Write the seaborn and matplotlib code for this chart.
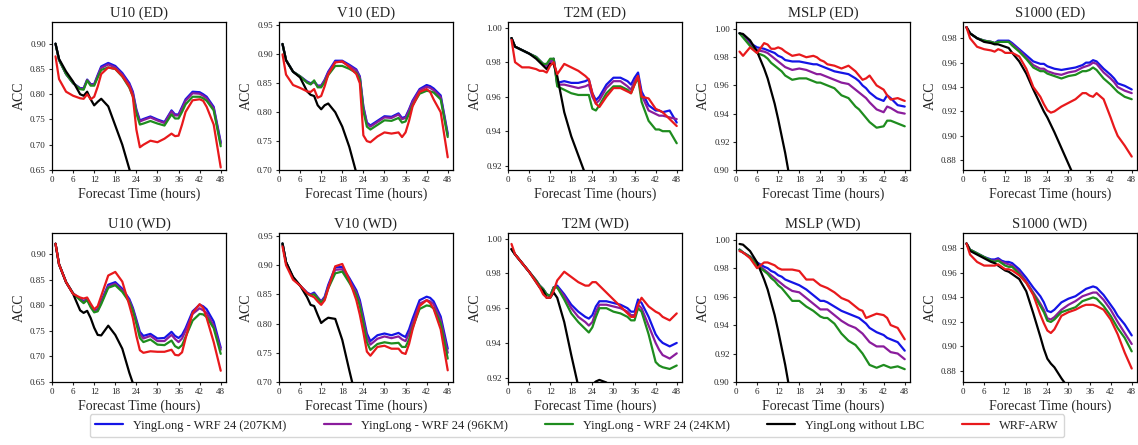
import matplotlib
matplotlib.use("Agg")
import matplotlib.pyplot as plt
import matplotlib.ticker as mticker
import numpy as np
import pandas as pd
import seaborn as sns

hours = [1, 2, 4, 6, 8, 9, 10, 11, 12, 13, 14, 16, 18, 20, 22, 23, 24, 25, 26, 28,
         30, 32, 34, 35, 36, 37, 38, 40, 42, 43, 44, 46, 48]

models = ["YingLong - WRF 24 (207KM)", "YingLong - WRF 24 (96KM)",
          "YingLong - WRF 24 (24KM)", "YingLong without LBC", "WRF-ARW"]
colors = ["#1414e6", "#8a1c9c", "#1e8c1e", "#000000", "#e8191c"]

# ---------------- U10 (ED)
U10_ED_207 = [.900, .868, .840, .822, .812, .812, .829, .820, .820, .838, .855, .862, .856, .842, .822, .805, .770, .748, .751, .756, .750, .745, .768, .760, .760, .775, .790, .805, .804, .800, .795, .775, .705]
U10_ED_96 = [.900, .868, .840, .822, .811, .811, .828, .819, .819, .836, .852, .859, .853, .839, .819, .802, .767, .746, .749, .754, .748, .743, .766, .758, .758, .772, .787, .802, .801, .797, .792, .772, .702]
U10_ED_24 = [.900, .868, .840, .822, .810, .809, .827, .817, .817, .833, .848, .853, .850, .835, .813, .796, .762, .740, .742, .747, .742, .738, .760, .752, .752, .765, .780, .795, .795, .792, .787, .768, .697]
U10_ED_NOLBC = [.900, .870, .845, .825, .800, .797, .805, .790, .778, .785, .791, .776, .738, .700, .652, .630, .610, .598, .588, .570, .550, .530, .510, .500, .490, .480, .470, .450, .430, .420, .410, .390, .370]
U10_ED_WRF = [.875, .830, .805, .797, .792, .791, .800, .790, .795, .815, .840, .853, .850, .836, .815, .795, .730, .695, .700, .708, .705, .712, .722, .717, .718, .740, .765, .788, .790, .787, .775, .740, .655]

# ---------------- V10 (ED)
V10_ED_207 = [.918, .890, .870, .862, .853, .850, .853, .846, .846, .856, .870, .889, .889, .882, .874, .862, .810, .782, .777, .785, .793, .792, .798, .790, .792, .805, .820, .840, .847, .845, .841, .829, .763]
V10_ED_96 = [.918, .890, .870, .862, .852, .849, .852, .845, .845, .855, .868, .887, .887, .880, .872, .860, .808, .780, .775, .783, .791, .790, .796, .788, .790, .803, .818, .838, .844, .842, .838, .826, .760]
V10_ED_24 = [.918, .890, .870, .862, .851, .848, .855, .843, .843, .852, .864, .880, .880, .875, .868, .857, .802, .775, .770, .778, .786, .785, .790, .782, .784, .797, .812, .832, .837, .836, .834, .822, .757]
V10_ED_NOLBC = [.918, .890, .870, .860, .836, .830, .828, .812, .805, .812, .815, .800, .775, .740, .695, .675, .655, .640, .625, .595, .565, .535, .505, .495, .485, .475, .465, .445, .425, .415, .405, .385, .365]
V10_ED_WRF = [.900, .865, .847, .842, .836, .835, .840, .825, .828, .845, .865, .886, .888, .878, .866, .850, .760, .750, .748, .758, .765, .763, .765, .757, .765, .785, .810, .835, .840, .835, .822, .800, .722]

# ---------------- T2M (ED)
T2M_ED_207 = [.994, .989, .987, .985, .983, .981, .979, .978, .980, .982, .968, .969, .968, .968, .969, .970, .962, .958, .960, .967, .971, .971, .969, .967, .971, .974, .963, .955, .952, .952, .951, .952, .945]
T2M_ED_96 = [.994, .989, .987, .985, .983, .981, .979, .978, .980, .982, .967, .967, .966, .965, .966, .967, .960, .956, .958, .965, .969, .969, .966, .964, .969, .972, .961, .952, .950, .949, .949, .948, .947]
T2M_ED_24 = [.994, .989, .987, .985, .983, .981, .979, .979, .982, .982, .966, .964, .962, .961, .961, .961, .953, .952, .955, .962, .966, .966, .964, .962, .967, .971, .957, .946, .941, .941, .940, .940, .933]
T2M_ED_NOLBC = [.994, .989, .987, .985, .982, .980, .978, .976, .979, .979, .972, .951, .937, .926, .915, .910, .903, .900, .896, .890, .883, .876, .870, .866, .863, .860, .857, .850, .843, .840, .836, .830, .823]
T2M_ED_WRF = [.993, .980, .977, .977, .976, .975, .975, .974, .978, .980, .973, .979, .977, .975, .972, .970, .962, .956, .954, .960, .965, .965, .963, .962, .967, .972, .960, .959, .953, .952, .951, .947, .943]

# ---------------- MSLP (ED)
MSLP_ED_207 = [.997, .995, .990, .987, .986, .985, .984, .983, .981, .980, .978, .977, .977, .976, .975, .975, .974, .973, .972, .970, .969, .968, .965, .963, .960, .958, .955, .951, .949, .953, .951, .946, .945]
MSLP_ED_96 = [.997, .995, .989, .985, .984, .983, .981, .979, .977, .975, .973, .971, .972, .971, .969, .968, .968, .967, .966, .964, .962, .961, .957, .955, .953, .951, .948, .943, .941, .945, .944, .941, .940]
MSLP_ED_24 = [.997, .994, .988, .983, .981, .979, .976, .974, .972, .970, .967, .964, .965, .965, .963, .962, .962, .961, .960, .958, .953, .951, .945, .943, .940, .937, .934, .930, .931, .935, .935, .933, .931]
MSLP_ED_NOLBC = [.997, .9965, .992, .984, .972, .965, .956, .947, .936, .924, .912, .884, .851, .815, .776, .755, .735, .715, .695, .650, .605, .560, .515, .495, .475, .455, .435, .395, .355, .335, .315, .275, .235]
MSLP_ED_WRF = [.984, .981, .987, .983, .990, .989, .986, .986, .987, .986, .984, .981, .982, .980, .981, .980, .978, .977, .975, .974, .972, .974, .970, .967, .964, .965, .967, .960, .957, .953, .950, .951, .949]

# ---------------- S1000 (ED)
S1000_ED_207 = [.989, .984, .980, .978, .977, .976, .978, .978, .978, .978, .976, .971, .966, .961, .959, .959, .957, .956, .955, .954, .955, .956, .958, .960, .960, .962, .961, .955, .950, .947, .943, .941, .938]
S1000_ED_96 = [.989, .984, .980, .978, .977, .976, .977, .977, .977, .977, .975, .970, .964, .958, .955, .955, .953, .952, .951, .950, .952, .953, .956, .957, .958, .960, .959, .952, .947, .944, .940, .937, .935]
S1000_ED_24 = [.989, .984, .980, .978, .977, .976, .977, .977, .977, .977, .974, .969, .963, .956, .953, .953, .951, .950, .949, .947, .949, .950, .953, .953, .954, .956, .954, .947, .942, .939, .936, .932, .930]
S1000_ED_NOLBC = [.989, .984, .980, .977, .976, .975, .975, .974, .973, .972, .968, .961, .951, .938, .926, .920, .915, .909, .903, .890, .877, .864, .850, .843, .836, .830, .824, .810, .797, .790, .784, .770, .757]
S1000_ED_WRF = [.989, .980, .973, .971, .970, .969, .971, .970, .968, .968, .968, .965, .955, .940, .932, .926, .921, .919, .920, .924, .927, .930, .935, .935, .933, .932, .935, .930, .915, .907, .900, .892, .883]

# ---------------- U10 (WD)
U10_WD_207 = [.920, .880, .845, .823, .812, .808, .812, .800, .790, .792, .808, .840, .845, .832, .812, .795, .772, .748, .740, .744, .735, .736, .748, .740, .736, .742, .755, .788, .801, .798, .792, .768, .717]
U10_WD_96 = [.920, .880, .845, .823, .811, .806, .811, .798, .789, .790, .805, .837, .842, .829, .809, .792, .768, .743, .735, .740, .730, .730, .742, .734, .728, .735, .750, .783, .794, .790, .785, .760, .713]
U10_WD_24 = [.920, .880, .845, .823, .810, .804, .810, .796, .786, .788, .802, .834, .839, .826, .806, .789, .764, .736, .728, .733, .723, .722, .731, .720, .716, .722, .738, .770, .783, .782, .777, .755, .705]
U10_WD_NOLBC = [.920, .880, .845, .822, .790, .785, .789, .775, .756, .742, .741, .760, .742, .715, .668, .648, .630, .610, .590, .560, .530, .500, .470, .460, .450, .440, .430, .410, .390, .380, .370, .350, .330]
U10_WD_WRF = [.920, .880, .845, .822, .815, .813, .815, .803, .792, .798, .818, .858, .865, .846, .800, .775, .740, .712, .707, .710, .709, .709, .713, .703, .702, .708, .735, .785, .802, .795, .775, .728, .672]

# ---------------- V10 (WD)
V10_WD_207 = [.937, .905, .878, .865, .853, .850, .853, .845, .838, .846, .866, .896, .897, .878, .857, .840, .812, .783, .770, .780, .783, .780, .784, .780, .777, .790, .808, .840, .846, .844, .838, .812, .757]
V10_WD_96 = [.937, .905, .878, .865, .852, .849, .851, .844, .837, .844, .863, .892, .893, .874, .853, .835, .806, .777, .764, .774, .778, .775, .778, .773, .770, .783, .800, .834, .840, .838, .833, .806, .750]
V10_WD_24 = [.937, .905, .878, .865, .851, .848, .850, .843, .836, .842, .860, .886, .889, .870, .849, .830, .800, .768, .755, .765, .768, .766, .767, .760, .760, .773, .793, .825, .831, .830, .826, .800, .740]
V10_WD_NOLBC = [.937, .905, .880, .865, .845, .832, .830, .815, .801, .806, .810, .808, .772, .720, .670, .650, .630, .610, .590, .560, .530, .500, .470, .460, .450, .440, .430, .410, .390, .380, .370, .350, .330]
V10_WD_WRF = [.932, .900, .875, .865, .852, .848, .845, .838, .832, .840, .860, .898, .902, .875, .840, .815, .785, .752, .745, .760, .762, .757, .757, .750, .748, .765, .790, .830, .840, .835, .825, .790, .720]

# ---------------- T2M (WD)
T2M_WD_207 = [.994, .991, .986, .981, .976, .973, .971, .968, .967, .972, .973, .968, .962, .958, .955, .954, .956, .961, .964, .964, .963, .962, .960, .958, .958, .965, .963, .955, .945, .942, .940, .938, .940]
T2M_WD_96 = [.994, .991, .986, .981, .976, .973, .971, .968, .967, .972, .972, .967, .960, .955, .952, .950, .952, .958, .962, .962, .961, .960, .958, .956, .956, .962, .960, .950, .940, .936, .933, .931, .934]
T2M_WD_24 = [.994, .991, .986, .981, .976, .973, .971, .968, .967, .972, .972, .965, .957, .952, .948, .946, .949, .955, .960, .960, .958, .957, .955, .953, .953, .960, .958, .945, .929, .927, .926, .925, .927]
T2M_WD_NOLBC = [.994, .991, .986, .981, .975, .972, .970, .966, .966, .969, .966, .952, .933, .915, .912, .913, .916, .9178, .9187, .9172, .912, .905, .898, .894, .890, .886, .882, .875, .868, .864, .860, .853, .846]
T2M_WD_WRF = [.997, .991, .986, .981, .975, .972, .968, .966, .966, .970, .976, .981, .978, .975, .973, .973, .975, .975, .973, .969, .965, .961, .957, .955, .955, .962, .966, .961, .958, .957, .955, .953, .957]

# ---------------- MSLP (WD)
MSLP_WD_207 = [.993, .991, .988, .984, .981, .980, .978, .977, .975, .974, .972, .970, .968, .965, .961, .959, .957, .957, .956, .953, .950, .948, .946, .945, .943, .941, .938, .935, .933, .931, .930, .928, .922]
MSLP_WD_96 = [.993, .991, .988, .983, .979, .977, .975, .973, .971, .969, .967, .964, .963, .959, .955, .953, .951, .951, .951, .947, .943, .940, .938, .936, .934, .931, .928, .925, .925, .923, .921, .920, .916]
MSLP_WD_24 = [.993, .991, .988, .982, .978, .976, .973, .971, .968, .966, .963, .957, .957, .953, .950, .948, .946, .945, .945, .941, .934, .929, .926, .923, .920, .916, .912, .910, .912, .911, .910, .911, .909]
MSLP_WD_NOLBC = [.997, .9965, .992, .984, .972, .965, .956, .947, .936, .924, .912, .884, .851, .815, .776, .755, .735, .715, .695, .650, .605, .560, .515, .495, .475, .455, .435, .395, .355, .335, .315, .275, .235]
MSLP_WD_WRF = [.992, .991, .987, .980, .984, .984, .983, .982, .980, .979, .979, .979, .978, .972, .972, .970, .968, .967, .966, .963, .959, .957, .953, .951, .950, .945, .946, .948, .947, .945, .940, .938, .930]

# ---------------- S1000 (WD)
S1000_WD_207 = [.984, .979, .976, .973, .971, .971, .972, .970, .969, .969, .968, .963, .956, .948, .941, .936, .929, .928, .930, .936, .939, .941, .945, .947, .948, .949, .948, .942, .934, .930, .925, .918, .909]
S1000_WD_96 = [.984, .979, .976, .973, .970, .970, .971, .969, .968, .967, .966, .961, .953, .944, .935, .930, .923, .922, .924, .930, .934, .937, .941, .942, .943, .944, .944, .938, .930, .925, .920, .911, .902]
S1000_WD_24 = [.984, .979, .976, .973, .970, .969, .970, .968, .966, .965, .965, .959, .952, .943, .933, .928, .921, .920, .922, .928, .930, .932, .937, .938, .939, .940, .939, .933, .925, .920, .915, .907, .896]
S1000_WD_NOLBC = [.984, .978, .975, .972, .969, .968, .966, .964, .962, .961, .959, .955, .945, .927, .908, .898, .890, .886, .883, .874, .866, .858, .850, .846, .842, .838, .834, .826, .818, .814, .810, .802, .794]
S1000_WD_WRF = [.984, .975, .969, .966, .966, .966, .967, .965, .963, .963, .962, .958, .952, .942, .926, .919, .913, .911, .914, .925, .928, .930, .933, .934, .934, .934, .933, .930, .922, .916, .910, .895, .882]

titles = ["U10 (ED)", "V10 (ED)", "T2M (ED)", "MSLP (ED)", "S1000 (ED)",
          "U10 (WD)", "V10 (WD)", "T2M (WD)", "MSLP (WD)", "S1000 (WD)"]
series = [
    [U10_ED_207, U10_ED_96, U10_ED_24, U10_ED_NOLBC, U10_ED_WRF],
    [V10_ED_207, V10_ED_96, V10_ED_24, V10_ED_NOLBC, V10_ED_WRF],
    [T2M_ED_207, T2M_ED_96, T2M_ED_24, T2M_ED_NOLBC, T2M_ED_WRF],
    [MSLP_ED_207, MSLP_ED_96, MSLP_ED_24, MSLP_ED_NOLBC, MSLP_ED_WRF],
    [S1000_ED_207, S1000_ED_96, S1000_ED_24, S1000_ED_NOLBC, S1000_ED_WRF],
    [U10_WD_207, U10_WD_96, U10_WD_24, U10_WD_NOLBC, U10_WD_WRF],
    [V10_WD_207, V10_WD_96, V10_WD_24, V10_WD_NOLBC, V10_WD_WRF],
    [T2M_WD_207, T2M_WD_96, T2M_WD_24, T2M_WD_NOLBC, T2M_WD_WRF],
    [MSLP_WD_207, MSLP_WD_96, MSLP_WD_24, MSLP_WD_NOLBC, MSLP_WD_WRF],
    [S1000_WD_207, S1000_WD_96, S1000_WD_24, S1000_WD_NOLBC, S1000_WD_WRF],
]
ylims = [(0.65, 0.943), (0.70, 0.956), (0.9175, 1.0033), (0.90, 1.005), (0.872, 0.9933),
         (0.65, 0.941), (0.70, 0.955), (0.9175, 1.0033), (0.90, 1.0047), (0.871, 0.9926)]
yticks = [np.arange(0.65, 0.901, 0.05), np.arange(0.70, 0.951, 0.05),
          np.arange(0.92, 1.001, 0.02), np.arange(0.90, 1.001, 0.02),
          np.arange(0.88, 0.981, 0.02)] * 2
xticks = [0, 6, 12, 18, 24, 30, 36, 42, 48]

sns.set_theme(style="ticks")
plt.rcParams["font.family"] = ["Liberation Serif", "DejaVu Serif"]

W, H = 1138, 445
fig = plt.figure(figsize=(W / 100, H / 100), dpi=100)
lefts = [52, 279, 508, 736, 963]
rows = [(22, 170), (233, 382)]
palette = dict(zip(models, colors))

for i in range(10):
    r, c = divmod(i, 5)
    top, bot = rows[r]
    ax = fig.add_axes([lefts[c] / W, 1 - bot / H, 174 / W, (bot - top) / H])
    df = pd.concat([pd.DataFrame({"hour": hours, "acc": vals, "model": m})
                    for m, vals in zip(models, series[i])], ignore_index=True)
    sns.lineplot(data=df, x="hour", y="acc", hue="model", hue_order=models,
                 palette=palette, linewidth=1.6, ax=ax, legend=False)
    ax.set_xlim(0, 49.5)
    ax.set_ylim(*ylims[i])
    ax.set_xticks(xticks)
    ax.set_yticks(yticks[i])
    ax.yaxis.set_major_formatter(mticker.FormatStrFormatter("%.2f"))
    ax.tick_params(axis="both", labelsize=6.5, length=2.5, width=0.8, pad=2)
    ax.set_title(titles[i], fontsize=10.5, pad=4)
    ax.set_xlabel("Forecast Time (hours)", fontsize=10, labelpad=2)
    ax.set_ylabel("ACC", fontsize=10, labelpad=3)
    for s in ax.spines.values():
        s.set_linewidth(0.9)
        s.set_color("black")
        s.set_visible(True)

handles = [plt.Line2D([], [], color=c, lw=1.6) for c in colors]
fig.legend(handles, models, loc="lower center", ncol=5, bbox_to_anchor=(0.507, 0.003),
           fontsize=9, frameon=True, columnspacing=3.0, handlelength=2.2,
           borderpad=0.45, edgecolor="#cccccc", fancybox=True)

fig.savefig("out.png", dpi=100)
